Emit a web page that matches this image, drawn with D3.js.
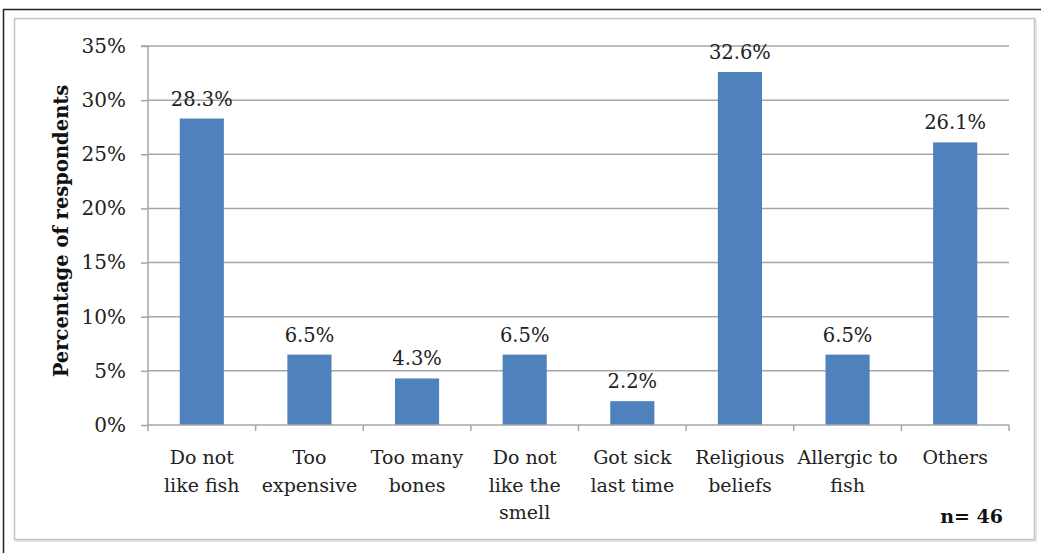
<!DOCTYPE html>
<html><head><meta charset="utf-8">
<script src="https://cdn.jsdelivr.net/npm/d3@7"></script>
<style>body{margin:0;background:#fff}svg{display:block}</style>
</head><body>
<svg id="c" width="1041" height="553"></svg>
<script>
const categories = [["Do not","like fish"],["Too","expensive"],["Too many","bones"],["Do not","like the","smell"],["Got sick","last time"],["Religious","beliefs"],["Allergic to","fish"],["Others"]];
const values = [28.3, 6.5, 4.3, 6.5, 2.2, 32.6, 6.5, 26.1];
const yTicks = [0,5,10,15,20,25,30,35];
const yTitle = "Percentage of respondents";
const note = "n= 46";

const svg = d3.select("#c");
const font = "'DejaVu Serif', serif";
// outer frame
svg.append("line").attr("x1",3).attr("y1",9.5).attr("x2",1041).attr("y2",9.5).attr("stroke","#222").attr("stroke-width",1.5);
svg.append("line").attr("x1",3.5).attr("y1",9).attr("x2",3.5).attr("y2",553).attr("stroke","#222").attr("stroke-width",1.5);
svg.append("rect").attr("x",16).attr("y",20).attr("width",1020).attr("height",521).attr("fill","none").attr("stroke","#e6e6e6").attr("stroke-width",2);
svg.append("rect").attr("x",14.5).attr("y",18.5).attr("width",1020).attr("height",521).attr("fill","#fff").attr("stroke","#c4c4c4").attr("stroke-width",1.5);

const x0 = 148, x1 = 1009, yTop = 46, yBot = 425;
const x = d3.scaleBand().domain(d3.range(values.length)).range([x0,x1]).paddingInner(0.59).paddingOuter(0.295);
const y = d3.scaleLinear().domain([0,35]).range([yBot,yTop]);

// gridlines
svg.append("g").selectAll("line").data(yTicks.filter(d=>d>0)).join("line")
  .attr("x1",x0).attr("x2",x1).attr("y1",d=>y(d)).attr("y2",d=>y(d))
  .attr("stroke","#a6a6a6").attr("stroke-width",1.5);

// bars
svg.append("g").selectAll("rect").data(values).join("rect")
  .attr("x",(d,i)=>x(i)).attr("width",x.bandwidth())
  .attr("y",d=>y(d)).attr("height",d=>yBot-y(d))
  .attr("fill","#4f81bd");

// y axis
const ya = svg.append("g").attr("transform",`translate(${x0},0)`)
  .call(d3.axisLeft(y).tickValues(yTicks).tickFormat(d=>d+"%").tickSize(7).tickPadding(15));
ya.select(".domain").attr("stroke","#a6a6a6").attr("stroke-width",1.5).attr("d",`M-7,${yTop}H0V${yBot}`);
ya.selectAll(".tick line").attr("stroke","#a6a6a6").attr("stroke-width",1.5);
ya.selectAll(".tick text").attr("font-family",font).attr("font-size",20).attr("fill","#222");

// x axis
const xb = d3.scaleLinear().domain([0,values.length]).range([x0,x1]);
svg.append("line").attr("x1",x0).attr("x2",x1).attr("y1",yBot).attr("y2",yBot).attr("stroke","#a6a6a6").attr("stroke-width",1.5);
svg.append("g").selectAll("line").data(d3.range(values.length+1)).join("line")
  .attr("x1",d=>xb(d)).attr("x2",d=>xb(d)).attr("y1",yBot).attr("y2",yBot+6)
  .attr("stroke","#a6a6a6").attr("stroke-width",1.5);

// category labels
const cl = svg.append("g").selectAll("text").data(categories).join("text")
  .attr("x",(d,i)=>x(i)+x.bandwidth()/2).attr("y",464)
  .attr("text-anchor","middle").attr("font-family",font).attr("font-size",19).attr("fill","#222");
cl.selectAll("tspan").data(d=>d).join("tspan")
  .attr("x",function(){return this.parentNode.getAttribute("x");})
  .attr("dy",(d,i)=>i===0?0:27.5).text(d=>d);

// value labels
svg.append("g").selectAll("text").data(values).join("text")
  .attr("x",(d,i)=>x(i)+x.bandwidth()/2).attr("y",d=>y(d)-13)
  .attr("text-anchor","middle").attr("font-family",font).attr("font-size",19.5).attr("fill","#222")
  .text(d=>d.toFixed(1)+"%");

// y title
svg.append("text").attr("transform","translate(68,231) rotate(-90)")
  .attr("text-anchor","middle").attr("font-family",font).attr("font-weight","bold").attr("font-size",19.5).attr("fill","#111")
  .text(yTitle);

// note
svg.append("text").attr("x",1003).attr("y",523).attr("text-anchor","end")
  .attr("font-family",font).attr("font-weight","bold").attr("font-size",19).attr("fill","#111").text(note);
</script>
</body></html>
